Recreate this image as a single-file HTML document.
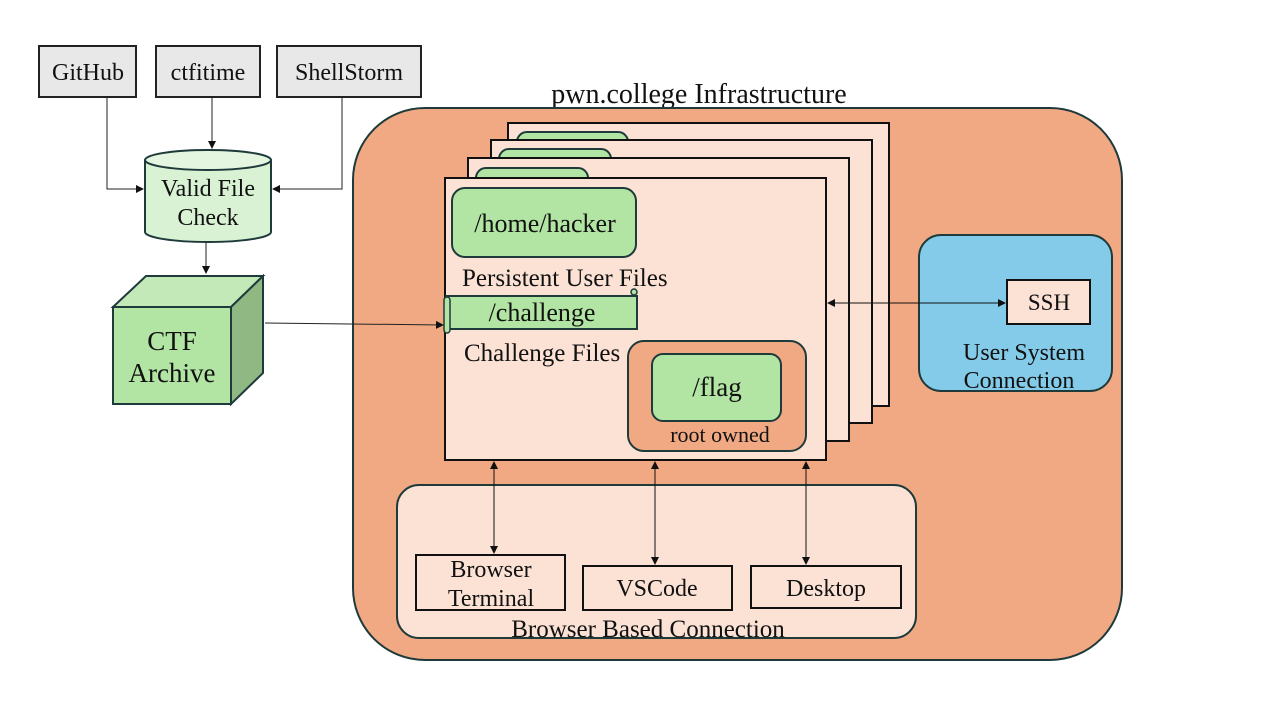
<!DOCTYPE html>
<html><head><meta charset="utf-8"><style>
html,body{margin:0;padding:0;background:#fff;}
svg{display:block;}
text{font-family:"Liberation Serif",serif;fill:#111;}
</style></head><body>
<svg width="1280" height="720" viewBox="0 0 1280 720" xmlns="http://www.w3.org/2000/svg">
<defs>
<marker id="ah" markerWidth="8" markerHeight="8" refX="7" refY="4" orient="auto-start-reverse" markerUnits="userSpaceOnUse">
<path d="M0,0 L8,4 L0,8 z" fill="#111"/></marker>
</defs>
<!-- sources -->
<g stroke="#222" stroke-width="2" fill="#e8e8e8">
<rect x="39" y="46" width="97" height="51"/>
<rect x="156" y="46" width="104" height="51"/>
<rect x="277" y="46" width="144" height="51"/>
</g>
<g font-size="24" text-anchor="middle">
<text x="88" y="80">GitHub</text>
<text x="208" y="80">ctfitime</text>
<text x="349" y="80">ShellStorm</text>
</g>
<g stroke="#222" stroke-width="1" fill="none">
<path d="M107,97 V189 H143" marker-end="url(#ah)"/>
<path d="M212,97 V148" marker-end="url(#ah)"/>
<path d="M342,97 V189 H273" marker-end="url(#ah)"/>
<path d="M206,242 V273" marker-end="url(#ah)"/>
</g>
<!-- cylinder -->
<path d="M145,160 V232 A63,10 0 0 0 271,232 V160" fill="#d9f2d3" stroke="#1e3a3a" stroke-width="2"/>
<ellipse cx="208" cy="160" rx="63" ry="10" fill="#e4f5e0" stroke="#1e3a3a" stroke-width="2"/>
<text x="208" y="196" font-size="24" text-anchor="middle">Valid File</text>
<text x="208" y="225" font-size="24" text-anchor="middle">Check</text>
<!-- cube -->
<g stroke="#1e3a3a" stroke-width="2">
<polygon points="113,307 146,276 263,276 231,307" fill="#c3e9b9"/>
<polygon points="231,307 263,276 263,373 231,404" fill="#8fb883"/>
<rect x="113" y="307" width="118" height="97" fill="#b2e5a3"/>
</g>
<text x="172" y="350" font-size="27" text-anchor="middle">CTF</text>
<text x="172" y="382" font-size="27" text-anchor="middle">Archive</text>
<!-- infra -->
<text x="699" y="103" font-size="28" text-anchor="middle">pwn.college Infrastructure</text>
<rect x="353" y="108" width="769" height="552" rx="72" fill="#f1a984" stroke="#1e3a3a" stroke-width="2"/>
<path d="M265,323 L443,325" stroke="#222" stroke-width="1" fill="none" marker-end="url(#ah)"/>
<!-- stacked pages -->
<g stroke="#111" stroke-width="2">
<rect x="508" y="123" width="381" height="283" fill="#fbe2d5"/>
<rect x="517" y="132" width="111" height="30" rx="10" fill="#b2e5a3" stroke="#1e3a3a"/>
<rect x="491" y="140" width="381" height="283" fill="#fbe2d5"/>
<rect x="499" y="149" width="112" height="30" rx="10" fill="#b2e5a3" stroke="#1e3a3a"/>
<rect x="468" y="158" width="381" height="283" fill="#fbe2d5"/>
<rect x="476" y="168" width="112" height="30" rx="10" fill="#b2e5a3" stroke="#1e3a3a"/>
<rect x="445" y="178" width="381" height="282" fill="#fbe2d5"/>
</g>
<rect x="452" y="188" width="184" height="69" rx="13" fill="#b2e5a3" stroke="#1e3a3a" stroke-width="2"/>
<text x="545" y="232" font-size="26" text-anchor="middle">/home/hacker</text>
<text x="462" y="286" font-size="25">Persistent User Files</text>
<rect x="446" y="296" width="191" height="33" fill="#b2e5a3" stroke="#1e3a3a" stroke-width="2"/>
<rect x="444" y="297" width="6" height="36" rx="3" fill="#b2e5a3" stroke="#1e3a3a" stroke-width="1.5"/>
<circle cx="634" cy="292" r="3" fill="#b2e5a3" stroke="#1e3a3a" stroke-width="1.5"/>
<text x="542" y="321" font-size="26" text-anchor="middle">/challenge</text>
<text x="464" y="361" font-size="25">Challenge Files</text>
<rect x="628" y="341" width="178" height="110" rx="16" fill="#f1a984" stroke="#1e3a3a" stroke-width="2"/>
<rect x="652" y="354" width="129" height="67" rx="11" fill="#b2e5a3" stroke="#1e3a3a" stroke-width="2"/>
<text x="717" y="396" font-size="27" text-anchor="middle">/flag</text>
<text x="720" y="442" font-size="22" text-anchor="middle">root owned</text>
<!-- user system -->
<rect x="919" y="235" width="193" height="156" rx="22" fill="#84cbe9" stroke="#1e3a3a" stroke-width="2"/>
<rect x="1007" y="280" width="83" height="44" fill="#fbe2d5" stroke="#111" stroke-width="2"/>
<text x="1049" y="310" font-size="23" text-anchor="middle">SSH</text>
<text x="1024" y="360" font-size="24" text-anchor="middle">User System</text>
<text x="1019" y="388" font-size="24" text-anchor="middle">Connection</text>
<path d="M828,303 H1005" stroke="#111" stroke-width="1" marker-start="url(#ah)" marker-end="url(#ah)"/>
<!-- browser based -->
<rect x="397" y="485" width="519" height="153" rx="22" fill="#fbe2d5" stroke="#1e3a3a" stroke-width="2"/>
<g stroke="#111" stroke-width="2" fill="#fbe2d5">
<rect x="416" y="555" width="149" height="55"/>
<rect x="583" y="566" width="149" height="44"/>
<rect x="751" y="566" width="150" height="42"/>
</g>
<g font-size="24" text-anchor="middle">
<text x="491" y="577">Browser</text>
<text x="491" y="606">Terminal</text>
<text x="657" y="596">VSCode</text>
<text x="826" y="596">Desktop</text>
<text x="648" y="637" font-size="25">Browser Based Connection</text>
</g>
<g stroke="#111" stroke-width="1">
<path d="M494,462 V553" marker-start="url(#ah)" marker-end="url(#ah)"/>
<path d="M655,462 V564" marker-start="url(#ah)" marker-end="url(#ah)"/>
<path d="M806,462 V564" marker-start="url(#ah)" marker-end="url(#ah)"/>
</g>
</svg>
</body></html>
